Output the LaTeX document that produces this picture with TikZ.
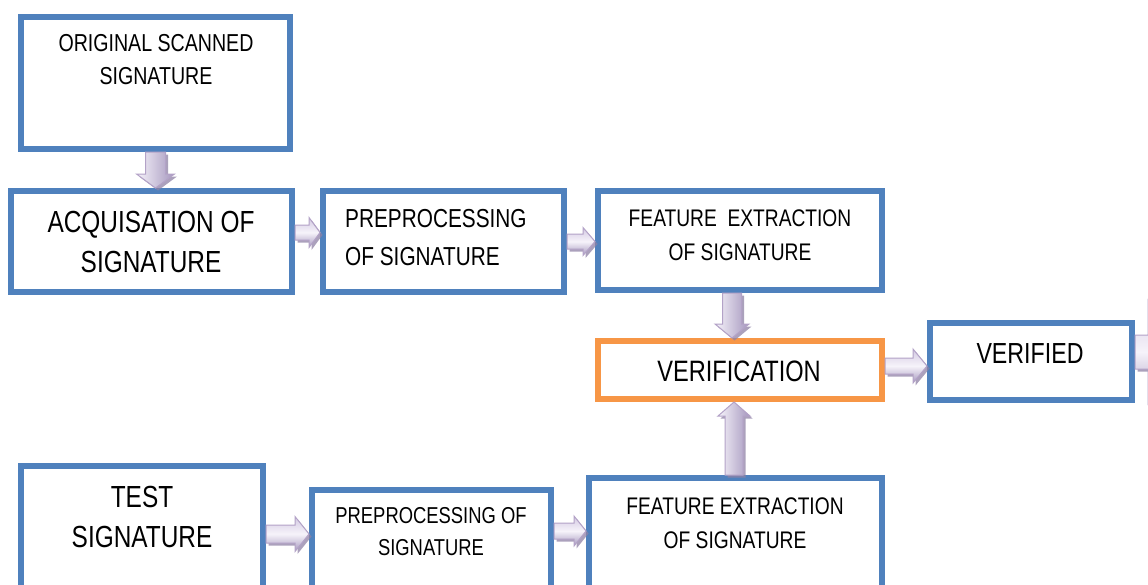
\documentclass[tikz,border=0pt]{standalone}
\usepackage{fontspec}
\setmainfont{Liberation Sans}[FakeStretch=0.8]
\usetikzlibrary{calc,shadows}
\definecolor{boxblue}{HTML}{4F81BD}
\definecolor{boxorange}{HTML}{F79646}
\definecolor{arrline}{HTML}{B3A2C7}
\definecolor{arrlight}{HTML}{F6F3FA}
\definecolor{arrmid}{HTML}{D3C9E2}
\definecolor{arrdark}{HTML}{A597BE}
\definecolor{arrshadow}{HTML}{8F81A6}
\tikzset{
  box/.style={draw=boxblue, line width=6pt, fill=white, rectangle, inner sep=0pt, anchor=north west},
  obox/.style={box, draw=boxorange},
  lbl/.style={inner sep=0pt, align=center, text=black},
  arrbase/.style={draw=arrline, line width=1pt, line join=miter,
    drop shadow={shadow xshift=2.5pt, shadow yshift=-2.5pt, fill=arrshadow, opacity=0.75}},
  harr/.style={arrbase, top color=arrmid, bottom color=arrdark, middle color=arrlight},
  varr/.style={arrbase, left color=arrlight, right color=arrdark}
}
% #1 style, #2 start, #3 end, #4 shaft half width, #5 head half width, #6 head length
\newcommand\blockarrow[6]{%
  \path[#1] let \p1=(#2), \p2=(#3),
    \n1={veclen(\x2-\x1,\y2-\y1)}, \n2={atan2(\y2-\y1,\x2-\x1)} in
    [shift={(\x1,\y1)}, rotate=\n2]
    (0pt,#4) -- (\n1-#6,#4) -- (\n1-#6,#5) -- (\n1,0pt) -- (\n1-#6,-#5)
    -- (\n1-#6,-#4) -- (0pt,-#4) -- cycle;
}
\begin{document}
\begin{tikzpicture}[x=1pt,y=-1pt]
\useasboundingbox (0,0) rectangle (1148,584);
% boxes
\node[box, minimum width=269pt, minimum height=132pt] (b1) at (18,14) {};
\node[box, minimum width=281pt, minimum height=101pt] (b2) at (8,188) {};
\node[box, minimum width=241pt, minimum height=101pt] (b3) at (320,188) {};
\node[box, minimum width=284pt, minimum height=99pt] (b4) at (595,188) {};
\node[obox, minimum width=284pt, minimum height=58pt] (b5) at (595,338) {};
\node[box, minimum width=202pt, minimum height=77pt] (b6) at (927,320) {};
\node[box, minimum width=242pt, minimum height=150pt] (b7) at (18,463) {};
\node[box, minimum width=239pt, minimum height=130pt] (b8) at (309,487) {};
\node[box, minimum width=293pt, minimum height=140pt] (b9) at (586,475) {};
% texts
\node[lbl, font=\fontsize{24.5}{33}\selectfont] (t1) at (156,60) {ORIGINAL SCANNED\\SIGNATURE};
\node[lbl, font=\fontsize{30.5}{40}\selectfont] (t2) at (151,242) {ACQUISATION OF\\SIGNATURE};
\node[lbl, align=left, anchor=west, font=\fontsize{26}{38}\selectfont] (t3) at (345,238) {PREPROCESSING\\OF SIGNATURE};
\node[lbl, font=\fontsize{24}{34}\selectfont] (t4) at (740,235) {FEATURE\ \ EXTRACTION\\OF SIGNATURE};
\node[lbl, font=\fontsize{29.5}{36}\selectfont] (t5) at (739,371) {VERIFICATION};
\node[lbl, font=\fontsize{29}{36}\selectfont] (t6) at (1030,354) {VERIFIED};
\node[lbl, font=\fontsize{30.5}{40}\selectfont] (t7) at (142,517) {TEST\\SIGNATURE};
\node[lbl, font=\fontsize{23}{32}\selectfont] (t8) at (431,532) {PREPROCESSING OF\\SIGNATURE};
\node[lbl, font=\fontsize{24}{34}\selectfont] (t9) at (735,523) {FEATURE EXTRACTION\\OF SIGNATURE};
% helper coordinates
\coordinate (c2) at ([yshift=9pt]b2.east);
\coordinate (c4) at ([xshift=-8pt]b4.south);
\coordinate (c5) at ([yshift=4pt]b5.east);
\coordinate (c6) at ([yshift=9.5pt]b6.east);
\coordinate (c6end) at (1188,352);
\coordinate (c9) at (734,0);
\coordinate (c8) at (0,534);
\coordinate (c10) at (0,531);
% arrows
\blockarrow{varr}{b1.south}{b1.south |- b2.north}{10pt}{19pt}{14pt}
\blockarrow{harr}{c2}{b3.west |- c2}{7.5pt}{15pt}{11pt}
\blockarrow{harr}{b3.east}{b4.west |- b3.east}{7.5pt}{14pt}{12pt}
\blockarrow{varr}{c4}{c4 |- b5.north}{9.5pt}{17pt}{14pt}
\blockarrow{harr}{c5}{b6.west |- c5}{8pt}{17pt}{14pt}
\blockarrow{harr}{c6}{c6end}{17pt}{52pt}{40pt}
\blockarrow{varr}{c9 |- b9.north}{c9 |- b5.south}{9pt}{16pt}{14pt}
\blockarrow{harr}{b7.east |- c8}{b8.west |- c8}{9pt}{17.5pt}{14pt}
\blockarrow{harr}{b8.east |- c10}{b9.west |- c10}{8pt}{15pt}{12pt}
\end{tikzpicture}
\end{document}
